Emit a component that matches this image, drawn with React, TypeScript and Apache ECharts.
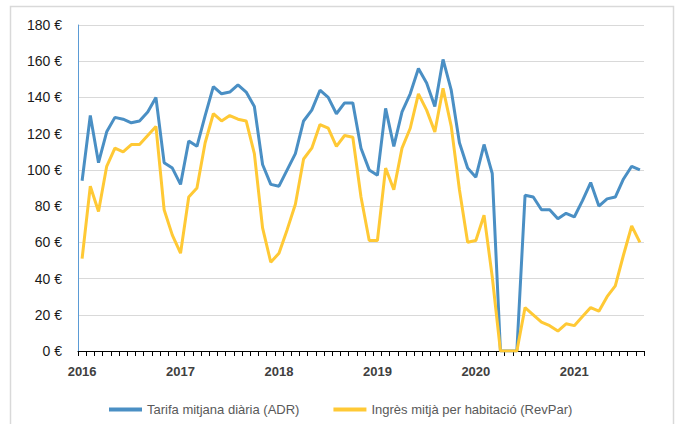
import React, { useEffect, useRef } from "react";
import * as echarts from "echarts";

const years = ["2016", "2017", "2018", "2019", "2020", "2021"];
const monthCodes = ["01", "02", "03", "04", "05", "06", "07", "08", "09", "10", "11", "12"];
const categories: string[] = [];
years.forEach((y) => monthCodes.forEach((m) => categories.push(y + "-" + m)));
categories.length = 69; // Jan 2016 – Sep 2021

const adr = [
  94, 130, 104, 121, 129, 128, 126, 127, 132, 140, 104, 101,
  92, 116, 113, 130, 146, 142, 143, 147, 143, 135, 103, 92,
  91, 100, 109, 127, 133, 144, 140, 131, 137, 137, 112, 100,
  97, 134, 113, 132, 142, 156, 148, 135, 161, 144, 115, 101,
  96, 114, 98, 0, 0, 0, 86, 85, 78, 78, 73, 76,
  74, 83, 93, 80, 84, 85, 95, 102, 100,
];

const revpar = [
  51, 91, 77, 102, 112, 110, 114, 114, 119, 124, 78, 64,
  54, 85, 90, 115, 131, 127, 130, 128, 127, 109, 68, 49,
  54, 67, 81, 106, 112, 125, 123, 113, 119, 118, 85, 61,
  61, 101, 89, 112, 123, 142, 133, 121, 145, 124, 89, 60,
  61, 75, 41, 0, 0, 0, 24, 20, 16, 14, 11, 15,
  14, 19, 24, 22, 30, 36, 53, 69, 60,
];

const seriesNames = ["Tarifa mitjana diària (ADR)", "Ingrès mitjà per habitació (RevPar)"];
const colors = ["#4a8fc4", "#ffc935"];

export default function App() {
  const ref = useRef<HTMLDivElement>(null);
  useEffect(() => {
    document.body.style.margin = "0";
    if (!ref.current) return;
    const chart = echarts.init(ref.current, null, { renderer: "svg" });
    const font = "'Liberation Sans', Arial, sans-serif";
    chart.setOption({
      animation: false,
      backgroundColor: "#ffffff",
      textStyle: { fontFamily: font },
      graphic: [
        {
          type: "rect",
          shape: { x: 10.5, y: 6.5, width: 663, height: 440 },
          style: { fill: "none", stroke: "#d9d9d9", lineWidth: 1.5 },
          silent: true,
        },
      ],
      grid: { left: 78, right: 33, top: 25, bottom: 73 },
      legend: {
        left: 104,
        top: 398,
        icon: "rect",
        itemWidth: 33,
        itemHeight: 4,
        itemGap: 34,
        textStyle: { color: "#595959", fontSize: 13, fontFamily: font },
        data: seriesNames,
      },
      xAxis: {
        type: "category",
        data: categories,
        boundaryGap: true,
        axisLine: { lineStyle: { color: "#000000", width: 1 } },
        axisTick: { show: true, interval: 0, length: 5, lineStyle: { color: "#000000" } },
        axisLabel: {
          interval: (index: number) => index % 12 === 0,
          formatter: (v: string) => v.slice(0, 4),
          color: "#404040",
          fontWeight: "bold",
          fontSize: 13,
          margin: 14,
          fontFamily: font,
        },
        splitLine: { show: false },
      },
      yAxis: {
        type: "value",
        min: 0,
        max: 180,
        interval: 20,
        axisLine: { show: true, lineStyle: { color: "#5b9bd5", width: 1 } },
        axisTick: { show: false },
        axisLabel: {
          formatter: "{value} €",
          color: "#1a1a1a",
          fontSize: 14,
          margin: 16,
          fontFamily: font,
        },
        splitLine: { lineStyle: { color: "#d9d9d9", width: 1 } },
      },
      series: [
        {
          name: seriesNames[0],
          type: "line",
          data: adr,
          symbol: "none",
          lineStyle: { color: colors[0], width: 3 },
          itemStyle: { color: colors[0] },
          z: 2,
        },
        {
          name: seriesNames[1],
          type: "line",
          data: revpar,
          symbol: "none",
          lineStyle: { color: colors[1], width: 3 },
          itemStyle: { color: colors[1] },
          z: 3,
        },
      ],
    });
    return () => chart.dispose();
  }, []);
  return <div ref={ref} style={{ width: 677, height: 424 }} />;
}
